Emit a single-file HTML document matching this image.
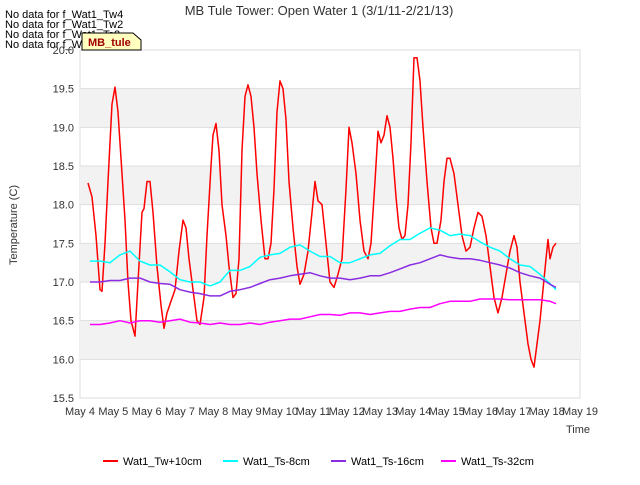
<!DOCTYPE html>
<html><head><meta charset="utf-8"><style>
body{margin:0;background:#fff;font-family:"Liberation Sans",sans-serif}
svg text{font-family:"Liberation Sans",sans-serif}
</style></head><body>
<svg id="c" width="640" height="480" xmlns="http://www.w3.org/2000/svg">
<text x="319" y="15" text-anchor="middle" font-size="13" fill="#333">MB Tule Tower: Open Water 1 (3/1/11-2/21/13)</text>
<g font-size="11" fill="#000">
<text x="5" y="18">No data for f_Wat1_Tw4</text>
<text x="5" y="28">No data for f_Wat1_Tw2</text>
<text x="5" y="38">No data for f_Wat1_Ts2</text>
<text x="5" y="48">No data for f_Wat1_Ts4</text>
</g>
<g id="plot"></g>
<g>
<path d="M82,33 L133,33 L141,40 L141,50 L82,50 Z" fill="#ffffc0" stroke="#000" stroke-width="1"/>
<text x="88" y="46" font-size="11" font-weight="bold" fill="#a00000">MB_tule</text>
</g>
<text x="566" y="433" font-size="11" fill="#333">Time</text>
<text transform="translate(17,225) rotate(-90)" text-anchor="middle" font-size="11" fill="#333">Temperature (C)</text>
<g id="legend"></g>
</svg>
<script>
const xTickLabels=["May 4","May 5","May 6","May 7","May 8","May 9","May 10","May 11","May 12","May 13","May 14","May 15","May 16","May 17","May 18","May 19"];
const yTicks=[15.5,16.0,16.5,17.0,17.5,18.0,18.5,19.0,19.5,20.0];
const redT=[.24,.36,.48,.6,.66,.75,.84,.96,1.05,1.14,1.23,1.35,1.44,1.53,1.65,1.74,1.86,1.92,2.01,2.1,2.19,2.31,2.43,2.52,2.61,2.73,2.85,2.97,3.09,3.18,3.27,3.39,3.51,3.6,3.72,3.81,3.93,3.99,4.08,4.17,4.26,4.38,4.47,4.59,4.68,4.77,4.86,4.95,5.04,5.13,5.22,5.31,5.43,5.55,5.64,5.73,5.82,5.91,6.0,6.09,6.18,6.27,6.39,6.51,6.6,6.72,6.84,6.96,7.05,7.14,7.26,7.38,7.5,7.62,7.74,7.86,7.98,8.07,8.16,8.28,8.4,8.52,8.64,8.73,8.85,8.94,9.03,9.12,9.21,9.3,9.39,9.48,9.57,9.66,9.75,9.84,9.93,10.02,10.11,10.2,10.29,10.41,10.53,10.62,10.71,10.83,10.92,11.01,11.1,11.22,11.34,11.46,11.58,11.7,11.82,11.94,12.06,12.18,12.3,12.42,12.54,12.66,12.78,12.9,13.02,13.11,13.2,13.32,13.44,13.53,13.62,13.71,13.8,13.89,13.98,14.04,14.1,14.19,14.28];
const redV=[18.28,18.1,17.6,16.9,16.88,17.5,18.3,19.3,19.52,19.2,18.6,17.8,17.0,16.5,16.3,17.0,17.9,17.95,18.3,18.3,17.9,17.2,16.7,16.4,16.6,16.75,16.9,17.4,17.8,17.7,17.3,16.9,16.5,16.45,16.8,17.6,18.5,18.9,19.05,18.7,18.0,17.6,17.2,16.8,16.85,17.3,18.7,19.4,19.55,19.4,19.0,18.4,17.8,17.3,17.3,17.5,18.2,19.2,19.6,19.5,19.1,18.3,17.7,17.2,16.97,17.1,17.4,17.9,18.3,18.05,18.0,17.5,17.0,16.93,17.1,17.3,18.2,19.0,18.8,18.4,17.8,17.4,17.3,17.5,18.3,18.95,18.8,18.9,19.15,19.0,18.6,18.1,17.7,17.55,17.6,18.0,18.8,19.9,19.9,19.6,19.0,18.3,17.7,17.5,17.5,17.8,18.3,18.6,18.6,18.4,18.0,17.6,17.4,17.45,17.7,17.9,17.85,17.6,17.2,16.8,16.6,16.8,17.1,17.4,17.6,17.45,17.0,16.6,16.2,16.0,15.9,16.2,16.5,16.9,17.3,17.55,17.3,17.45,17.5];
const t3=[.3,.6,.9,1.2,1.5,1.8,2.1,2.4,2.7,3.0,3.3,3.6,3.9,4.2,4.5,4.8,5.1,5.4,5.7,6.0,6.3,6.6,6.9,7.2,7.5,7.8,8.1,8.4,8.7,9.0,9.3,9.6,9.9,10.2,10.5,10.8,11.1,11.4,11.7,12.0,12.3,12.6,12.9,13.2,13.5,13.8,14.1,14.28];
const cyanV=[17.27,17.27,17.25,17.35,17.4,17.27,17.22,17.22,17.13,17.03,17.0,17.0,16.95,17.0,17.15,17.15,17.2,17.32,17.35,17.37,17.45,17.48,17.4,17.33,17.33,17.25,17.25,17.3,17.35,17.37,17.47,17.55,17.55,17.63,17.7,17.67,17.6,17.62,17.6,17.52,17.45,17.4,17.3,17.22,17.2,17.1,16.98,16.9];
const purpleV=[17.0,17.0,17.02,17.02,17.05,17.05,17.0,16.98,16.97,16.9,16.87,16.85,16.82,16.82,16.88,16.9,16.93,16.98,17.03,17.05,17.08,17.1,17.12,17.08,17.05,17.05,17.03,17.05,17.08,17.08,17.12,17.17,17.22,17.25,17.3,17.35,17.32,17.3,17.3,17.28,17.25,17.22,17.18,17.12,17.08,17.05,16.97,16.93];
const magentaV=[16.45,16.45,16.47,16.5,16.47,16.5,16.5,16.48,16.5,16.52,16.48,16.47,16.45,16.47,16.45,16.45,16.47,16.45,16.48,16.5,16.52,16.52,16.55,16.58,16.58,16.57,16.6,16.6,16.58,16.6,16.62,16.62,16.65,16.67,16.67,16.72,16.75,16.75,16.75,16.78,16.78,16.78,16.77,16.77,16.77,16.77,16.75,16.72];
const seriesNames=["Wat1_Tw+10cm","Wat1_Ts-8cm","Wat1_Ts-16cm","Wat1_Ts-32cm"];
const colors=["#ff0000","#00ffff","#8a2be2","#ff00ff"];

const L=80,R=580,T=50,B=398;
const xs=d=>L+d*(R-L)/15;
const ys=v=>B-(v-15.5)*(B-T)/4.5;
const NS="http://www.w3.org/2000/svg";
function mk(tag,at,parent){const e=document.createElementNS(NS,tag);for(const k in at)e.setAttribute(k,at[k]);parent.appendChild(e);return e;}
const plot=document.getElementById('plot');
const bg=mk('rect',{x:L,y:T,width:R-L,height:B-T,fill:'#fff',stroke:'#ddd'},plot);


for(let i=0;i<yTicks.length-1;i++){
  if(i%2===1){const b=mk('rect',{x:L,y:ys(yTicks[i+1]),width:R-L,height:ys(yTicks[i])-ys(yTicks[i+1]),fill:'#f2f2f2'},plot);
  
  }
}
yTicks.forEach(v=>{
  const g=mk('line',{x1:L,x2:R,y1:ys(v),y2:ys(v),stroke:'#ddd'},plot);
  
  
  const t=mk('text',{x:L-6,y:ys(v)+4,'text-anchor':'end','font-size':11,fill:'#333'},plot);
  t.textContent=v.toFixed(1);
  
  
});
xTickLabels.forEach((s,i)=>{
  const t=mk('text',{x:xs(i),y:B+17,'text-anchor':'middle','font-size':11,fill:'#333'},plot);
  t.textContent=s;
  
  
});
const data=[[redT,redV],[t3,cyanV],[t3,purpleV],[t3,magentaV]];
data.forEach(([tt,vv],k)=>{
  const p=mk('polyline',{points:tt.map((d,i)=>xs(d).toFixed(1)+','+ys(vv[i]).toFixed(1)).join(' '),fill:'none',stroke:colors[k],'stroke-width':1.5,'stroke-linejoin':'round'},plot);
  
  
});
const lg=document.getElementById('legend');
const lx=[103,223,331,441];
seriesNames.forEach((n,i)=>{
  const l=mk('line',{x1:lx[i],x2:lx[i]+15,y1:461,y2:461,stroke:colors[i],'stroke-width':2},lg);
  
  
  const t=mk('text',{x:lx[i]+20,y:465,'font-size':11,fill:'#000'},lg);
  t.textContent=n;
  
  
});
</script>
</body></html>
